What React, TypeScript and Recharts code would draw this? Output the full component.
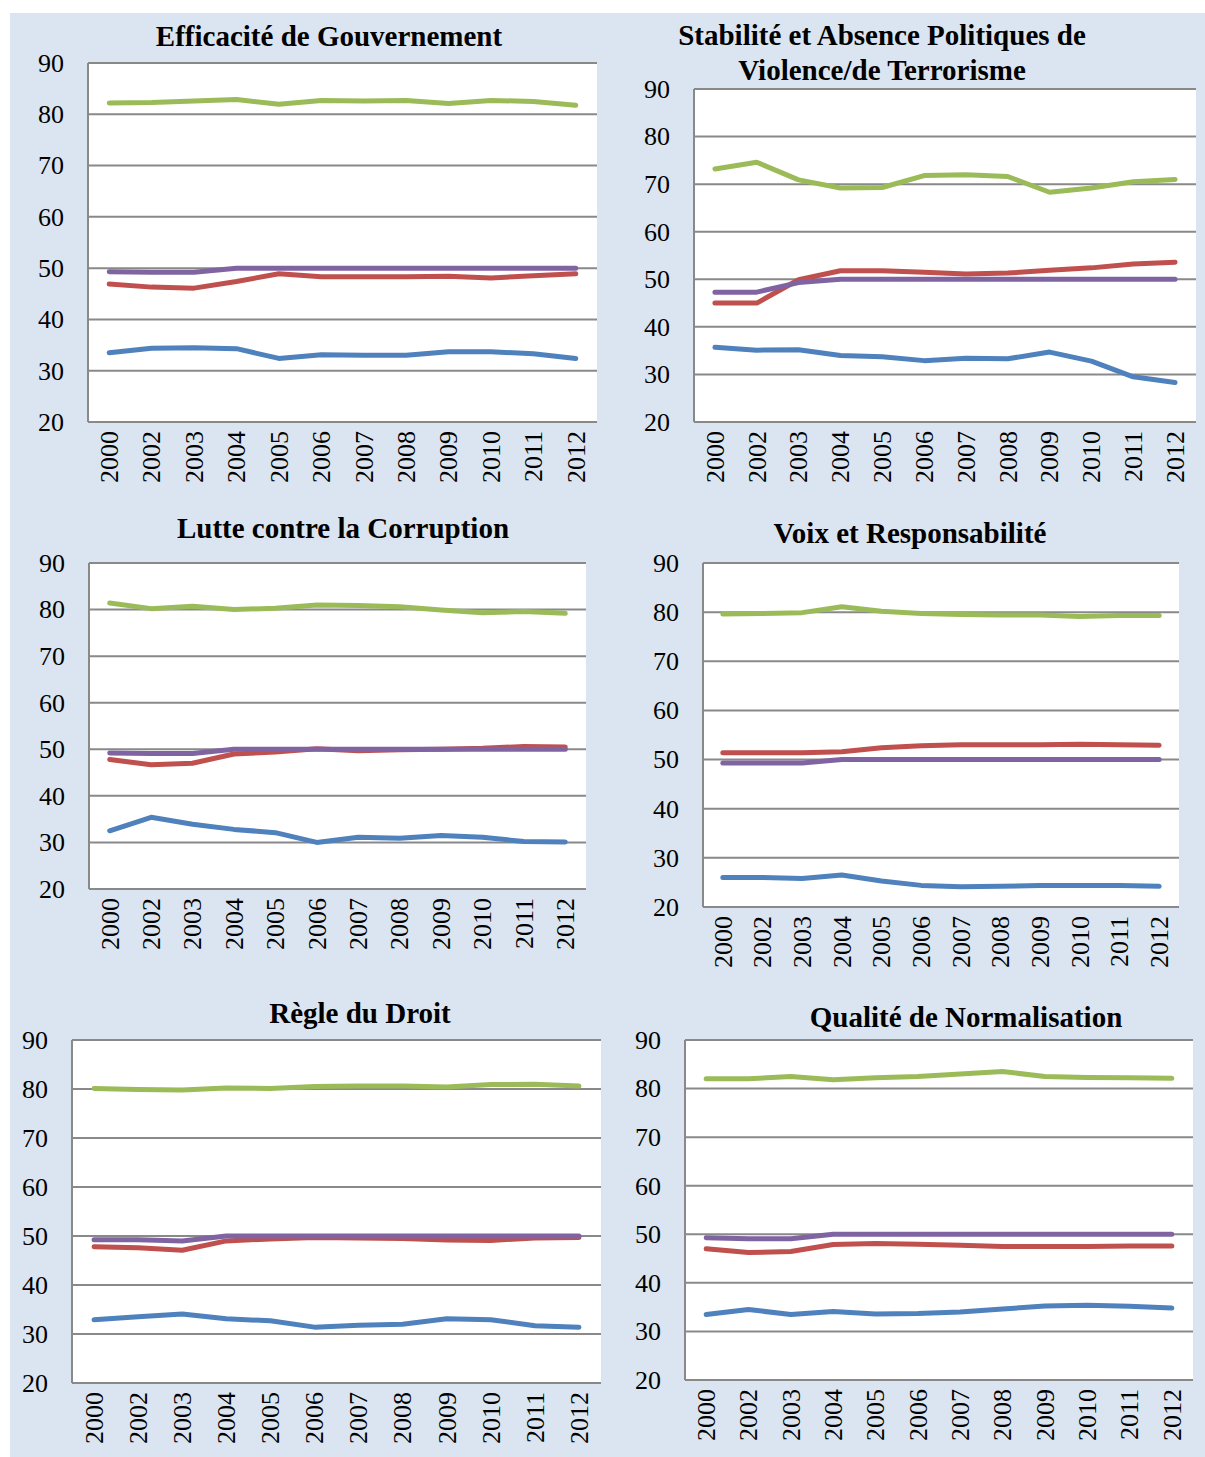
import React from 'react';
import { LineChart, Line, XAxis, YAxis, CartesianGrid } from 'recharts';

// Années (2001 absent de la série)
const years = ['2000', '2002', '2003', '2004', '2005', '2006', '2007', '2008', '2009', '2010', '2011', '2012'];
const yTicks = [20, 30, 40, 50, 60, 70, 80, 90];

// Efficacité de Gouvernement
const effBleu = [33.5, 34.4, 34.5, 34.3, 32.4, 33.1, 33.0, 33.0, 33.7, 33.7, 33.3, 32.4];
const effRouge = [46.9, 46.3, 46.1, 47.4, 48.9, 48.3, 48.3, 48.3, 48.4, 48.1, 48.5, 48.9];
const effVert = [82.2, 82.3, 82.6, 82.9, 81.95, 82.7, 82.6, 82.7, 82.1, 82.7, 82.5, 81.75];
const effViolet = [49.3, 49.2, 49.2, 50, 50, 50, 50, 50, 50, 50, 50, 50];

// Stabilité et Absence Politiques de Violence/de Terrorisme
const stabBleu = [35.7, 35.1, 35.2, 34.0, 33.7, 32.9, 33.4, 33.3, 34.7, 32.8, 29.5, 28.3];
const stabRouge = [45.0, 45.0, 49.9, 51.8, 51.8, 51.5, 51.1, 51.3, 51.9, 52.4, 53.2, 53.6];
const stabVert = [73.2, 74.6, 70.9, 69.2, 69.3, 71.8, 72.0, 71.6, 68.3, 69.2, 70.5, 71.0];
const stabViolet = [47.3, 47.3, 49.3, 50, 50, 50, 50, 50, 50, 50, 50, 50];

// Lutte contre la Corruption
const corBleu = [32.5, 35.4, 33.9, 32.8, 32.1, 30.0, 31.1, 30.9, 31.5, 31.1, 30.2, 30.1];
const corRouge = [47.8, 46.7, 47.0, 49.0, 49.4, 50.1, 49.7, 49.9, 50.0, 50.2, 50.6, 50.5];
const corVert = [81.4, 80.2, 80.7, 80.0, 80.3, 81.0, 80.9, 80.6, 79.9, 79.3, 79.6, 79.2];
const corViolet = [49.2, 49.1, 49.1, 50, 50, 50, 50, 50, 50, 50, 50, 50];

// Voix et Responsabilité
const voixBleu = [26.0, 26.0, 25.8, 26.5, 25.3, 24.4, 24.1, 24.2, 24.4, 24.4, 24.4, 24.2];
const voixRouge = [51.4, 51.4, 51.4, 51.6, 52.4, 52.8, 53.0, 53.0, 53.0, 53.1, 53.0, 52.9];
const voixVert = [79.6, 79.7, 79.9, 81.1, 80.2, 79.7, 79.5, 79.4, 79.4, 79.1, 79.3, 79.3];
const voixViolet = [49.3, 49.3, 49.3, 50, 50, 50, 50, 50, 50, 50, 50, 50];

// Règle du Droit
const droitBleu = [32.9, 33.5, 34.1, 33.1, 32.7, 31.4, 31.8, 32.0, 33.1, 32.9, 31.7, 31.4];
const droitRouge = [47.8, 47.6, 47.1, 49.0, 49.4, 49.7, 49.6, 49.5, 49.2, 49.1, 49.6, 49.7];
const droitVert = [80.1, 79.9, 79.8, 80.2, 80.1, 80.5, 80.6, 80.6, 80.4, 80.9, 80.95, 80.6];
const droitViolet = [49.25, 49.25, 49.0, 50, 50, 50, 50, 50, 50, 50, 50, 50];

// Qualité de Normalisation
const normBleu = [33.5, 34.5, 33.5, 34.1, 33.6, 33.7, 34.0, 34.6, 35.25, 35.4, 35.2, 34.8];
const normRouge = [47.0, 46.25, 46.45, 47.9, 48.1, 47.95, 47.75, 47.5, 47.5, 47.5, 47.6, 47.6];
const normVert = [82.0, 82.0, 82.5, 81.8, 82.25, 82.5, 83.0, 83.5, 82.5, 82.3, 82.25, 82.1];
const normViolet = [49.3, 49.1, 49.1, 50, 50, 50, 50, 50, 50, 50, 50, 50];

const COLORS = { bleu: '#4F81BD', rouge: '#C0504D', vert: '#9BBB59', violet: '#8064A2' };
const GRID = '#898989';
const FONT = "'Liberation Serif', 'Times New Roman', serif";

type PanelDef = {
  title: string[];
  titleX: number;
  titleY: number;
  left: number;
  right: number;
  top: number;
  bottom: number;
  xh: number;
  series: { bleu: number[]; rouge: number[]; vert: number[]; violet: number[] };
};

const panels: PanelDef[] = [
  { title: ['Efficacité de Gouvernement'], titleX: 329, titleY: 36, left: 88, right: 597, top: 63, bottom: 422, xh: 80,
    series: { bleu: effBleu, rouge: effRouge, vert: effVert, violet: effViolet } },
  { title: ['Stabilité et Absence Politiques de', 'Violence/de Terrorisme'], titleX: 882, titleY: 35, left: 694, right: 1196, top: 89, bottom: 422, xh: 80,
    series: { bleu: stabBleu, rouge: stabRouge, vert: stabVert, violet: stabViolet } },
  { title: ['Lutte contre la Corruption'], titleX: 343, titleY: 528, left: 89, right: 586, top: 563, bottom: 889, xh: 80,
    series: { bleu: corBleu, rouge: corRouge, vert: corVert, violet: corViolet } },
  { title: ['Voix et Responsabilité'], titleX: 910, titleY: 533, left: 703, right: 1179, top: 563, bottom: 907, xh: 80,
    series: { bleu: voixBleu, rouge: voixRouge, vert: voixVert, violet: voixViolet } },
  { title: ['Règle du Droit'], titleX: 360, titleY: 1013, left: 72, right: 601, top: 1040, bottom: 1383, xh: 70,
    series: { bleu: droitBleu, rouge: droitRouge, vert: droitVert, violet: droitViolet } },
  { title: ['Qualité de Normalisation'], titleX: 966, titleY: 1017, left: 685, right: 1193, top: 1040, bottom: 1380, xh: 70,
    series: { bleu: normBleu, rouge: normRouge, vert: normVert, violet: normViolet } },
];

const Y_AXIS_W = 70;
const PAD_TOP = 20;
const PAD_RIGHT = 5;
const TICK_STYLE: React.CSSProperties = { fontFamily: FONT, fontSize: 26, fill: '#000' };

// Étiquettes d'années écrites verticalement sous l'axe
const YearTick = (props: any) => {
  const { x, y, payload } = props;
  return (
    <text
      x={x}
      y={y}
      transform={`rotate(-90, ${x}, ${y})`}
      textAnchor="end"
      dy="0.34em"
      style={TICK_STYLE}
    >
      {payload.value}
    </text>
  );
};

const ValueTick = (props: any) => {
  const { x, y, payload } = props;
  return (
    <text x={x} y={y} textAnchor="end" dy="0.34em" style={TICK_STYLE}>
      {payload.value}
    </text>
  );
};

function Panel({ p }: { p: PanelDef }) {
  const plotW = p.right - p.left;
  const plotH = p.bottom - p.top;
  const data = years.map((annee, i) => ({
    annee,
    bleu: p.series.bleu[i],
    rouge: p.series.rouge[i],
    vert: p.series.vert[i],
    violet: p.series.violet[i],
  }));
  const pad = plotW / 24;
  const keys: (keyof typeof COLORS)[] = ['bleu', 'rouge', 'vert', 'violet'];
  return (
    <>
      <div
        style={{
          position: 'absolute',
          left: p.titleX - 300,
          width: 600,
          top: p.titleY - 17.5,
          textAlign: 'center',
          fontFamily: FONT,
          fontWeight: 'bold',
          fontSize: 29,
          lineHeight: '35px',
          color: '#000',
          whiteSpace: 'nowrap',
        }}
      >
        {p.title.map((t) => (
          <div key={t}>{t}</div>
        ))}
      </div>
      <div style={{ position: 'absolute', left: p.left - Y_AXIS_W, top: p.top - PAD_TOP }}>
        <LineChart
          width={plotW + Y_AXIS_W + PAD_RIGHT}
          height={plotH + PAD_TOP + p.xh}
          data={data}
          margin={{ top: PAD_TOP, right: PAD_RIGHT, bottom: 0, left: 0 }}
        >
          <CartesianGrid horizontal vertical={false} fill="#fff" stroke={GRID} strokeWidth={2} />
          <XAxis
            dataKey="annee"
            interval={0}
            tickLine={false}
            tickSize={0}
            tickMargin={9}
            height={p.xh}
            padding={{ left: pad, right: pad }}
            tick={<YearTick />}
            axisLine={{ stroke: GRID, strokeWidth: 2 }}
          />
          <YAxis
            type="number"
            domain={[20, 90]}
            ticks={yTicks}
            interval={0}
            width={Y_AXIS_W}
            tickLine={false}
            tickSize={0}
            tickMargin={24}
            tick={<ValueTick />}
            axisLine={{ stroke: GRID, strokeWidth: 2 }}
          />
          {keys.map((k) => (
            <Line
              key={k}
              type="linear"
              dataKey={k}
              stroke={COLORS[k]}
              strokeWidth={5}
              strokeLinecap="round"
              strokeLinejoin="round"
              dot={false}
              activeDot={false}
              isAnimationActive={false}
            />
          ))}
        </LineChart>
      </div>
    </>
  );
}

export default function App() {
  return (
    <div style={{ position: 'absolute', left: 0, top: 0, width: 1205, height: 1457, background: '#fff', overflow: 'hidden' }}>
      <div style={{ position: 'absolute', left: 10, top: 13, width: 1195, height: 1444, background: '#dbe5f1' }} />
      {panels.map((p, i) => (
        <Panel key={i} p={p} />
      ))}
    </div>
  );
}
